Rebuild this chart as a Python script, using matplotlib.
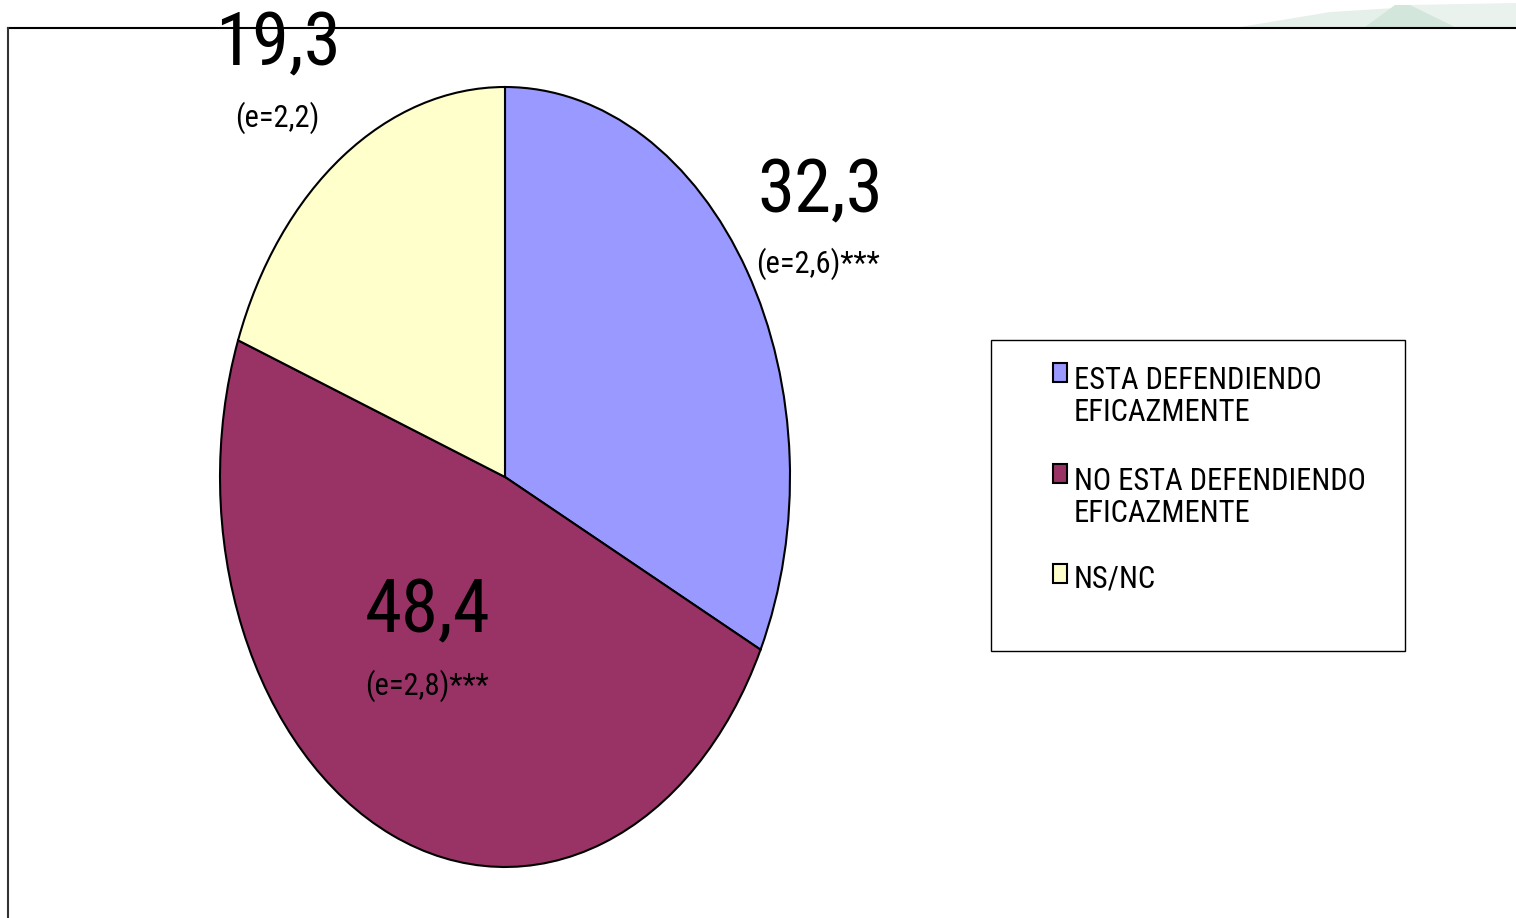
import matplotlib.pyplot as plt
from matplotlib.patches import Rectangle, Polygon
from matplotlib.lines import Line2D

plt.rcParams['font.family'] = ['Roboto Condensed', 'DejaVu Sans']

# datos
categorias = ['ESTA DEFENDIENDO\nEFICAZMENTE', 'NO ESTA DEFENDIENDO\nEFICAZMENTE', 'NS/NC']
valores = [32.3, 48.4, 19.3]
errores = ['(e=2,6)***', '(e=2,8)***', '(e=2,2)']
colores = ['#9999FF', '#993366', '#FFFFCC']

W, H = 1516, 918
fig = plt.figure(figsize=(W / 100, H / 100), dpi=100)

def fx(px):
    return px / W

def fy(py):
    return 1 - py / H

# decoracion verde arriba a la derecha
fig.patches.append(Polygon([[fx(1240), fy(27)], [fx(1330), fy(12)], [fx(1395), fy(8)], [fx(1380), fy(27)]],
                           closed=True, transform=fig.transFigure, facecolor='#e6f0ea', edgecolor='none'))
fig.patches.append(Polygon([[fx(1365), fy(27)], [fx(1395), fy(5)], [fx(1420), fy(5)], [fx(1455), fy(27)]],
                           closed=True, transform=fig.transFigure, facecolor='#d3e6dc', edgecolor='none'))
fig.patches.append(Polygon([[fx(1410), fy(5)], [fx(1516), fy(3)], [fx(1516), fy(27)], [fx(1455), fy(27)]],
                           closed=True, transform=fig.transFigure, facecolor='#e9f2ed', edgecolor='none'))

# marco
fig.lines.append(Line2D([fx(8), fx(1516)], [fy(28), fy(28)], transform=fig.transFigure, color='black', lw=1.5))
fig.lines.append(Line2D([fx(8), fx(8)], [fy(28), fy(918)], transform=fig.transFigure, color='#333333', lw=1.5))

# torta eliptica
ax = fig.add_axes([fx(220), fy(867), fx(790) - fx(220), (867 - 87) / H])
ax.pie(valores, colors=colores, startangle=90, counterclock=False,
       wedgeprops=dict(edgecolor='black', linewidth=1.5))
ax.set_aspect('auto')
ax.set_xlim(-1, 1)
ax.set_ylim(-1, 1)
ax.axis('off')

# etiquetas
pos_valor = [(820, 192), (428, 612), (278, 45)]
pos_error = [(818, 264), (427, 686), (277, 118)]
for v, e, pv, pe in zip(valores, errores, pos_valor, pos_error):
    fig.text(fx(pv[0]), fy(pv[1]), ('%.1f' % v).replace('.', ','), fontsize=54,
             ha='center', va='center')
    fig.text(fx(pe[0]), fy(pe[1]), e, fontsize=22, ha='center', va='center')

# leyenda
fig.patches.append(Rectangle((fx(991), fy(651)), fx(1405) - fx(991), (651 - 340) / H,
                             transform=fig.transFigure, facecolor='white', edgecolor='black', lw=1))
base_y = [386, 487, 587]
for cat, col, by in zip(categorias, colores, base_y):
    fig.patches.append(Rectangle((fx(1053), fy(by - 4)), fx(1067) - fx(1053), 19 / H,
                                 transform=fig.transFigure, facecolor=col, edgecolor='black', lw=1.5))
    ultima = by + 35 * cat.count('\n')
    fig.text(fx(1074), fy(ultima), cat, fontsize=22, ha='left', va='baseline', linespacing=1.15)

plt.savefig('out.png', dpi=100)
